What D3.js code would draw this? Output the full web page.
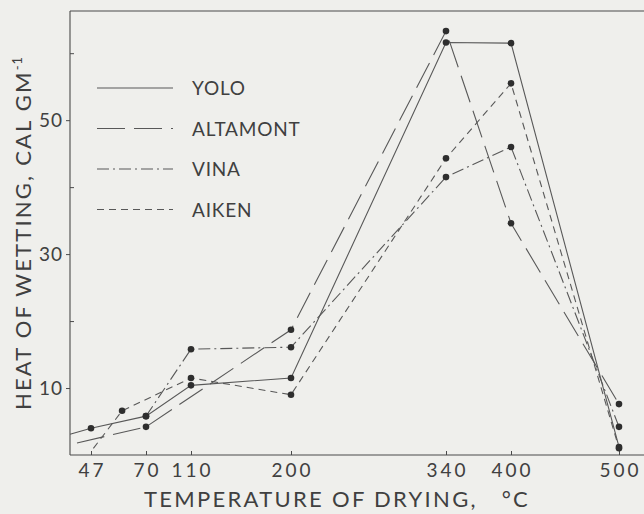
<!DOCTYPE html>
<html>
<head>
<meta charset="utf-8">
<script src="https://cdn.jsdelivr.net/npm/d3@7"></script>
<style>
  html, body { margin: 0; padding: 0; background: #efefec; }
  svg { display: block; }
  text { font-family: Lato, "DejaVu Sans", sans-serif; fill: #404040; white-space: pre; }
</style>
</head>
<body>
<svg id="chart" width="644" height="514"></svg>
<script>
// ---- data ----
const seriesNames = ["YOLO", "ALTAMONT", "VINA", "AIKEN"];
const yoloTemps     = [20, 47, 70, 110, 200, 340, 400, 500];
const yoloValues    = [3.1, 4.0, 5.8, 10.4, 11.5, 61.6, 61.5, 1.2];
const yoloDots      = [0, 1, 1, 1, 1, 1, 1, 1];
const altamontTemps  = [29, 70, 200, 340, 400, 500];
const altamontValues = [1.8, 4.2, 18.7, 63.3, 34.6, 7.6];
const altamontDots   = [0, 1, 1, 1, 1, 1];
const vinaTemps     = [70, 110, 200, 340, 400, 500];
const vinaValues    = [5.8, 15.8, 16.1, 41.5, 46.0, 4.2];
const vinaDots      = [1, 1, 1, 1, 1, 1];
const aikenTemps    = [48, 60, 110, 200, 340, 400, 500];
const aikenValues   = [1.0, 6.6, 11.5, 9.0, 44.3, 55.5, 1.0];
const aikenDots     = [0, 1, 1, 1, 1, 1, 1];
const xTickValues = [47, 70, 110, 200, 340, 400, 500];
const xTickLabels = ["47", "70", "110", "200", "340", "400", "500"];
const yTickValues = [10, 20, 30, 40, 50, 60];
const yTickLabels = ["10", "", "30", "", "50", ""];
const xTitle = "TEMPERATURE OF DRYING,   °C";
const yTitle = "HEAT OF WETTING, CAL GM";

(function () {
// ---- layout ----
const svg = d3.select("#chart");
const pLeft = 70, pRight = 650, pTop = 11, pBottom = 455;

// non-uniform temperature axis (as printed)
const x = d3.scaleLinear()
  .domain([20, 47, 70, 110, 200, 340, 400, 500, 530])
  .range([70, 91, 146, 191, 291, 446, 511, 619, 650]);
const y = d3.scaleLinear().domain([0, 66.3]).range([pBottom, pTop]);

const ink = "#4a4a4a";

// frame: left, top
svg.append("line").attr("x1", pLeft).attr("x2", pLeft).attr("y1", pTop).attr("y2", pBottom)
  .attr("stroke", ink).attr("stroke-width", 1.1);
svg.append("line").attr("x1", pLeft).attr("x2", pRight).attr("y1", pTop).attr("y2", pTop)
  .attr("stroke", ink).attr("stroke-width", 1.1);

// x axis (ticks pointing inward)
const xAxis = d3.axisTop(x).tickValues(xTickValues)
  .tickFormat(() => "").tickSizeInner(4).tickSizeOuter(0);
const gx = svg.append("g").attr("transform", `translate(0,${pBottom})`).call(xAxis);
gx.select(".domain").attr("d", `M${pLeft},0H${pRight}`).attr("stroke", ink).attr("stroke-width", 1.1);
gx.selectAll(".tick line").attr("stroke", ink);
svg.append("g").selectAll("text").data(xTickValues).join("text")
  .attr("x", d => x(d) + 1.5).attr("y", 477)
  .attr("text-anchor", "middle").attr("font-size", 19).attr("letter-spacing", 3)
  .text((d, i) => xTickLabels[i]);

// y axis
const yAxis = d3.axisLeft(y).tickValues(yTickValues)
  .tickFormat((d, i) => yTickLabels[i]).tickSizeInner(4).tickSizeOuter(0).tickPadding(3);
const gy = svg.append("g").attr("transform", `translate(${pLeft},0)`).call(yAxis);
gy.select(".domain").remove();
gy.selectAll(".tick line").attr("stroke", ink)
  .attr("x2", (d, i) => yTickLabels[i] ? -4 : 4);
gy.selectAll(".tick text").attr("font-size", 19).attr("fill", "#404040")
  .attr("letter-spacing", 1)
  .attr("font-family", "Lato, 'DejaVu Sans', sans-serif");

// axis titles
svg.append("text").attr("x", 337).attr("y", 507).attr("text-anchor", "middle")
  .attr("font-size", 22).attr("letter-spacing", 2.3).text(xTitle);
const yt = svg.append("text").attr("transform", "translate(31,233) rotate(-90)")
  .attr("text-anchor", "middle").attr("font-size", 22).attr("letter-spacing", 2.2);
yt.append("tspan").text(yTitle);
yt.append("tspan").attr("font-size", 13).attr("dy", -9).attr("letter-spacing", 1).text("-1");

// series
const series = [
  { name: seriesNames[0], temps: yoloTemps, values: yoloValues, dots: yoloDots, dash: null },
  { name: seriesNames[1], temps: altamontTemps, values: altamontValues, dots: altamontDots, dash: "28,9" },
  { name: seriesNames[2], temps: vinaTemps, values: vinaValues, dots: vinaDots, dash: "12,4,2,4" },
  { name: seriesNames[3], temps: aikenTemps, values: aikenValues, dots: aikenDots, dash: "7,5" }
];

const line = d3.line().x(d => x(d.t)).y(d => y(d.v));

series.forEach(s => {
  const pts = s.temps.map((t, i) => ({ t, v: s.values[i], dot: s.dots[i] }));
  svg.append("path").datum(pts).attr("d", line)
    .attr("fill", "none").attr("stroke", "#585858").attr("stroke-width", 1.1)
    .attr("stroke-dasharray", s.dash);
  svg.append("g").selectAll("circle").data(pts.filter(p => p.dot)).join("circle")
    .attr("cx", d => x(d.t)).attr("cy", d => y(d.v)).attr("r", 3.3).attr("fill", "#2e2e2e");
});

// legend
const legend = svg.append("g");
series.forEach((s, i) => {
  const ly = 88 + i * 40.5;
  legend.append("line").attr("x1", 97).attr("x2", 173).attr("y1", ly).attr("y2", ly)
    .attr("stroke", "#585858").attr("stroke-width", 1.1).attr("stroke-dasharray", s.dash);
  legend.append("text").attr("x", 192).attr("y", ly + 7).attr("font-size", 19)
    .attr("letter-spacing", 0.8).text(s.name);
});
})();
</script>
</body>
</html>
